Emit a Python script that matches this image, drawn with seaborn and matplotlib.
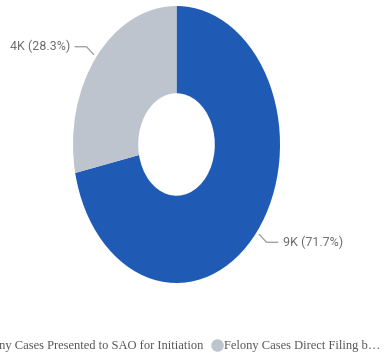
import numpy as np
import matplotlib
matplotlib.use("Agg")
import matplotlib.pyplot as plt
from matplotlib.lines import Line2D
import seaborn as sns

# Case counts by intake route
categories = ["Felony Cases Presented to SAO for Initiation",
              "Felony Cases Direct Filing b\u2026"]
values = [9250, 3650]
colors = ["#1f5bb5", "#bec4ce"]

sns.set_theme(style="white")
plt.rcParams["font.family"] = ["DejaVu Sans"]

fig = plt.figure(figsize=(3.87, 3.63), dpi=100)
W, H = 387, 363
# axes box in pixels: left, top, right, bottom
l, t, r, b = 73, 6, 280, 283
ax = fig.add_axes([l / W, 1 - b / H, (r - l) / W, (b - t) / H])

wedges, _ = ax.pie(values, colors=colors, startangle=90, counterclock=False,
                   radius=1.0, wedgeprops=dict(width=0.63, linewidth=0))
ax.set_aspect("auto")
ax.set_xlim(-1, 1)
ax.set_ylim(-1, 1)
ax.axis("off")

total = sum(values)
label_font = dict(family=["Roboto", "DejaVu Sans"], stretch="condensed",
                  size=9, color="#6e6e6e")
for w, v in zip(wedges, values):
    mid = np.deg2rad((w.theta1 + w.theta2) / 2)
    dx, dy = np.cos(mid), np.sin(mid)
    p0 = (1.03 * dx, 1.03 * dy)
    p1 = (1.12 * dx, 1.12 * dy)
    side = 1 if dx > 0 else -1
    p2 = (p1[0] + side * 0.11, p1[1])
    ax.plot([p0[0], p1[0], p2[0]], [p0[1], p1[1], p2[1]],
            color="#9a9a9a", lw=0.9, clip_on=False)
    txt = f"{v / 1000:.0f}K ({100 * v / total:.1f}%)"
    ax.text(p2[0] + side * 0.05, p2[1], txt, ha="left" if side > 0 else "right",
            va="center", clip_on=False, **label_font)

handles = [Line2D([], [], marker="o", ls="", markersize=8,
                  markerfacecolor=c, markeredgecolor=c) for c in colors]
fig.legend(handles, categories, ncol=2, loc="center",
           bbox_to_anchor=(172 / W, 1 - 346 / H), frameon=False,
           prop=dict(family=["Liberation Serif", "DejaVu Serif"], size=9),
           labelcolor="#555555", handletextpad=0.05, columnspacing=0.6,
           handlelength=1.0, borderaxespad=0)

fig.savefig("out.png", dpi=100)
